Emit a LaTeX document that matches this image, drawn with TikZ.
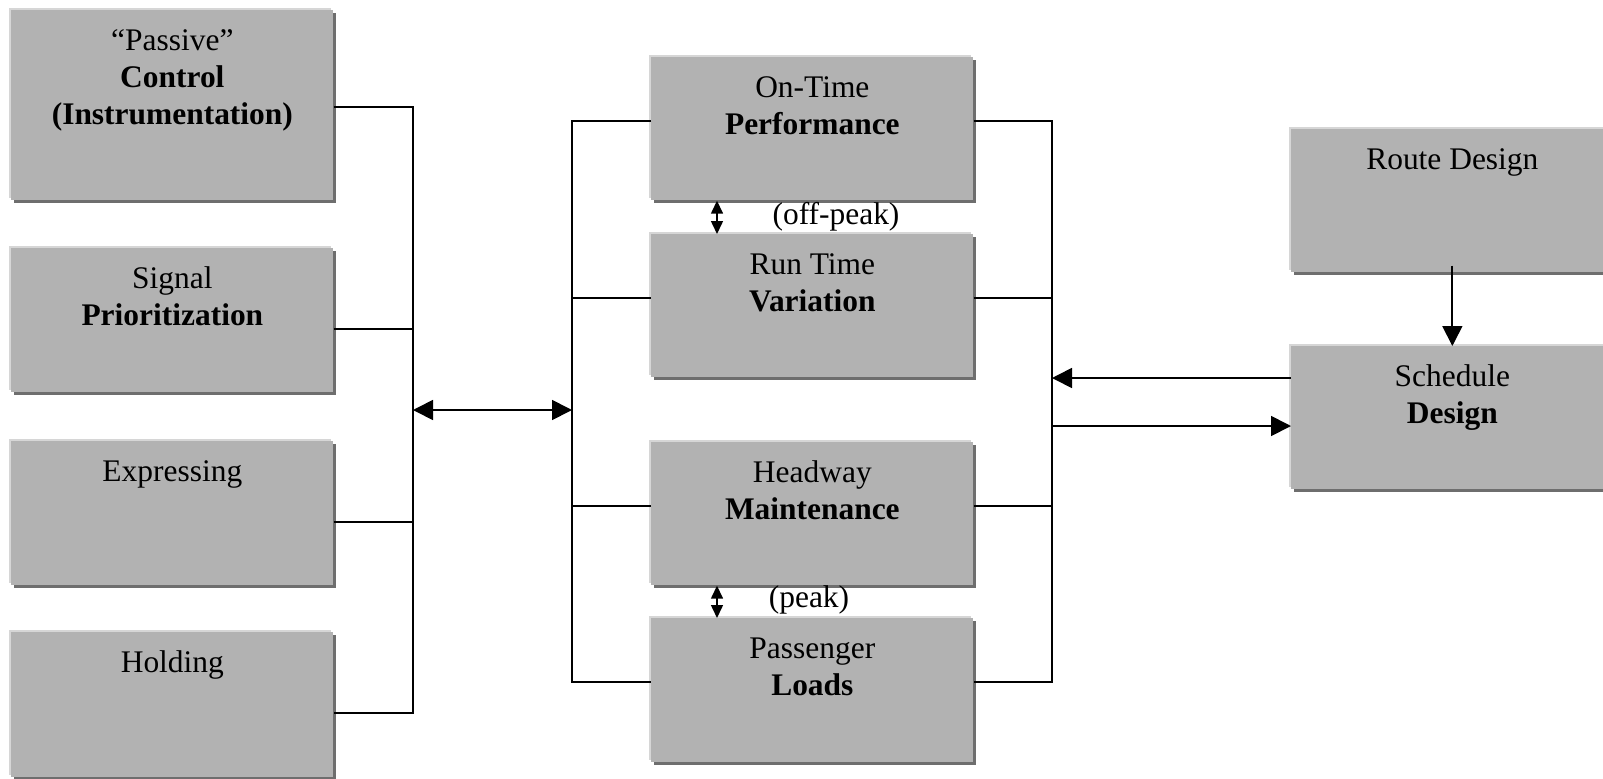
\documentclass[tikz,border=0pt]{standalone}
\usepackage{fontspec}
\setmainfont{Liberation Serif}
\usetikzlibrary{arrows.meta, shadows}
\newlength{\pxu}
\setlength{\pxu}{0.02cm}
\definecolor{boxfill}{RGB}{178,178,178}
\definecolor{boxlight}{RGB}{214,214,214}
\definecolor{boxdark}{RGB}{110,110,110}
\newcommand{\boxlines}[2]{\parbox[c][#1\pxu][t]{322\pxu}{\centering\rule{0pt}{40\pxu}#2}}

\begin{document}
\begin{tikzpicture}[x=0.02cm, y=-0.02cm, >={Triangle[length=0.4cm,width=0.4cm]},
  blockbox/.style={anchor=north west, inner sep=0pt, fill=boxfill,
    general shadow={fill=boxlight, shadow xshift=-0.05cm, shadow yshift=0.05cm},
    general shadow={fill=boxdark, shadow xshift=0.06cm, shadow yshift=-0.06cm}},
  wire/.style={line width=0.035cm},
  smallarr/.style={line width=0.03cm, {Triangle[length=0.26cm,width=0.24cm]}-{Triangle[length=0.26cm,width=0.24cm]}},
  font=\fontsize{17.9pt}{21pt}\selectfont]
  \clip (0,0) rectangle (1603,778);

  % 左侧方框
  \node[blockbox] (ctrl) at (11,10) {\boxlines{190}{“Passive”\\\textbf{Control}\\\textbf{(Instrumentation)}}};
  \node[blockbox] (sig) at (11,248) {\boxlines{144}{Signal\\\textbf{Prioritization}}};
  \node[blockbox] (expr) at (11,441) {\boxlines{144}{Expressing}};
  \node[blockbox] (hold) at (11,632) {\boxlines{145}{Holding}};

  % 中间方框
  \node[blockbox] (ontime) at (651,57) {\boxlines{143}{On-Time\\\textbf{Performance}}};
  \node[blockbox] (runtime) at (651,234) {\boxlines{143}{Run Time\\\textbf{Variation}}};
  \node[blockbox] (headway) at (651,442) {\boxlines{143}{Headway\\\textbf{Maintenance}}};
  \node[blockbox] (loads) at (651,618) {\boxlines{144}{Passenger\\\textbf{Loads}}};

  % 右侧方框
  \node[blockbox] (route) at (1291,129) {\boxlines{143}{Route Design}};
  \node[blockbox] (sched) at (1291,346) {\boxlines{143}{Schedule\\\textbf{Design}}};

  % 左侧总线
  \coordinate (ltop) at (413,107);
  \coordinate (lbot) at (413,713);
  \draw[wire] (ctrl.east |- ltop) -- (ltop) -- (lbot) -- (hold.east |- lbot);
  \draw[wire] (sig.east |- 0,329) -- (ltop |- 0,329);
  \draw[wire] (expr.east |- 0,522) -- (ltop |- 0,522);

  % 中间总线
  \coordinate (mtop) at (572,121);
  \coordinate (mbot) at (572,682);
  \draw[wire] (ontime.west |- mtop) -- (mtop) -- (mbot) -- (loads.west |- mbot);
  \draw[wire] (runtime.west |- 0,298) -- (mtop |- 0,298);
  \draw[wire] (headway.west |- 0,506) -- (mtop |- 0,506);

  % 右侧总线
  \coordinate (rtop) at (1052,121);
  \coordinate (rbot) at (1052,682);
  \draw[wire] (ontime.east |- rtop) -- (rtop) -- (rbot) -- (loads.east |- rbot);
  \draw[wire] (runtime.east |- 0,298) -- (rtop |- 0,298);
  \draw[wire] (headway.east |- 0,506) -- (rtop |- 0,506);

  % 双向箭头
  \draw[wire, <->] (ltop |- 0,410) -- (mtop |- 0,410);

  % 时刻表设计
  \draw[wire, ->] (sched.west |- 0,378) -- (rtop |- 0,378);
  \draw[wire, ->] (rtop |- 0,426) -- (sched.west |- 0,426);
  \draw[wire, ->] ([yshift=0.14cm]route.south) -- (sched.north);

  % 高峰与非高峰
  \draw[smallarr] (ontime.south -| 717,0) -- (runtime.north -| 717,0);
  \draw[smallarr] (headway.south -| 717,0) -- (loads.north -| 717,0);
  \node (offpeak) at (836,217) {(off-peak)};
  \node (peak) at (809,600) {(peak)};
\end{tikzpicture}
\end{document}
